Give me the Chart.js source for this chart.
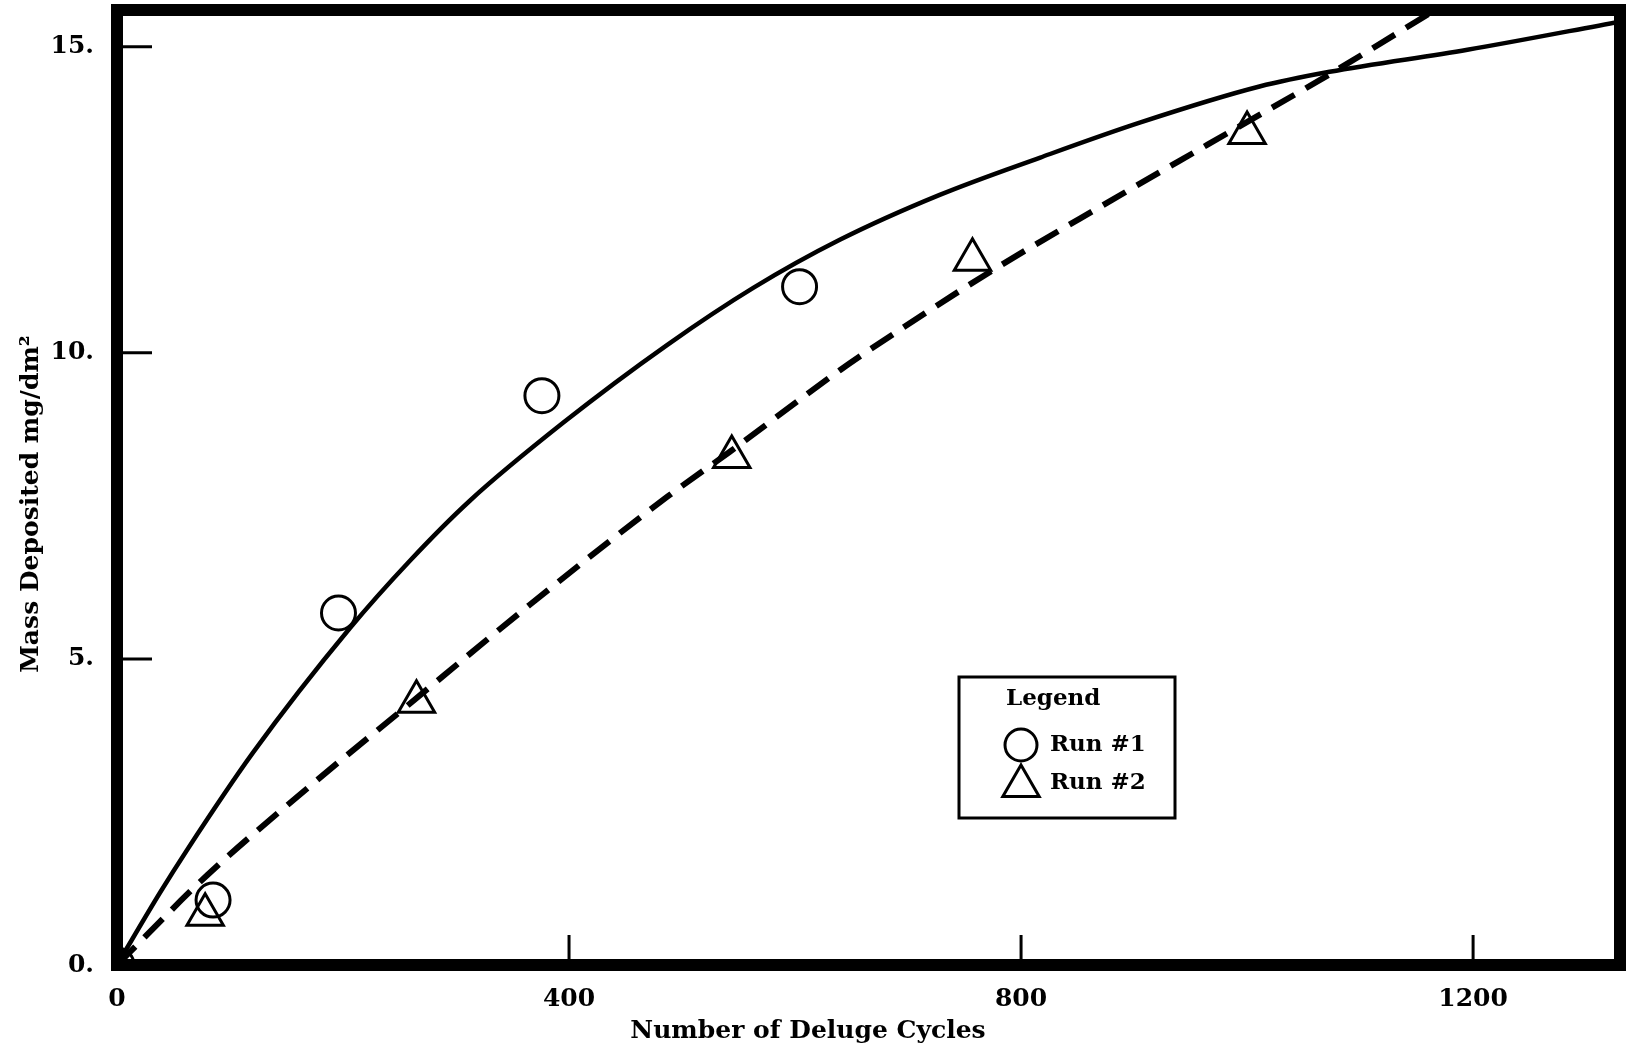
<!DOCTYPE html>
<html>
<head>
<meta charset="utf-8">
<script src="https://cdn.jsdelivr.net/npm/chart.js@4.4.1/dist/chart.umd.min.js"></script>
<style>
    html, body { margin: 0; padding: 0; background: #fff; }
    #wrap { width: 1632px; height: 1048px; }
</style>
</head>
<body>
<div id="wrap"><canvas id="deluge-chart"></canvas></div>
<script>
var run1Cycles = [0, 85, 196, 376, 604];
var run1Mass = [0, 1.06, 5.75, 9.30, 11.08];
var run2Cycles = [0, 78, 265, 544, 757, 1000];
var run2Mass = [0, 0.82, 4.30, 8.30, 11.52, 13.59];

// hand drawn fit curves
var fit1Cycles = [0, 38, 62, 120, 206, 259, 312, 395, 487, 563, 640, 728, 817, 905, 1011, 1073, 1195, 1330];
var fit1Mass = [0, 1.18, 1.88, 3.46, 5.50, 6.60, 7.58, 8.86, 10.13, 11.06, 11.85, 12.58, 13.19, 13.76, 14.35, 14.59, 14.95, 15.41];
var fit2Cycles = [0, 80, 177, 250, 365, 487, 542, 640, 693, 775, 876, 965, 1073, 1153, 1188];
var fit2Mass = [0, 1.47, 3.02, 4.13, 5.88, 7.65, 8.38, 9.72, 10.38, 11.35, 12.45, 13.40, 14.55, 15.45, 15.85];

// axes
var xTickValues = [0, 400, 800, 1200];
var yTickValues = [0, 5, 10, 15];
var xTitle = "Number of Deluge Cycles";
var yTitle = "Mass Deposited mg/dm\u00B2";
var legendTitle = "Legend";
var seriesNames = ["Run #1", "Run #2"];

var FONT = "'DejaVu Serif', 'Liberation Serif', serif";

function toPoints(xs, ys) {
    return xs.map(function (x, i) { return { x: x, y: ys[i] }; });
}

// no extra room for edge labels, the frame sits right at the canvas edge
function noEdgePadding(scale) {
    scale.paddingTop = 0;
    scale.paddingBottom = 0;
    scale.paddingLeft = 0;
    scale.paddingRight = 0;
}

// frame + inward tick marks
var framePlugin = {
    id: "frame",
    afterDatasetsDraw: function (chart) {
        var ctx = chart.ctx, a = chart.chartArea;
        var xs = chart.scales.x, ys = chart.scales.y;
        ctx.save();
        ctx.strokeStyle = "#000";
        ctx.lineWidth = 3;
        yTickValues.forEach(function (v) {
            if (v === 0) return;
            var py = ys.getPixelForValue(v);
            ctx.beginPath();
            ctx.moveTo(a.left, py);
            ctx.lineTo(a.left + 35, py);
            ctx.stroke();
        });
        xTickValues.forEach(function (v) {
            if (v === 0) return;
            var px = xs.getPixelForValue(v);
            ctx.beginPath();
            ctx.moveTo(px, a.bottom);
            ctx.lineTo(px, a.bottom - 30);
            ctx.stroke();
        });
        ctx.lineWidth = 12;
        ctx.lineJoin = "miter";
        ctx.strokeRect(a.left, a.top, a.right - a.left, a.bottom - a.top);
        ctx.restore();
    }
};

// axis titles and the boxed legend
var textPlugin = {
    id: "texts",
    afterDraw: function (chart) {
        var ctx = chart.ctx, a = chart.chartArea;
        var ds = chart.data.datasets;
        ctx.save();
        ctx.fillStyle = "#000";
        ctx.font = "bold 25px " + FONT;
        ctx.textAlign = "center";
        ctx.textBaseline = "middle";
        ctx.fillText(xTitle, a.left + 691, a.bottom + 66);

        ctx.save();
        ctx.translate(31, a.top + 494);
        ctx.rotate(-Math.PI / 2);
        ctx.fillText(yTitle, 0, 0);
        ctx.restore();

        // legend box
        var bx = a.left + 842, by = a.top + 667;
        ctx.lineWidth = 3;
        ctx.strokeStyle = "#000";
        ctx.strokeRect(bx, by, 216, 141);
        ctx.font = "bold 23px " + FONT;
        ctx.textAlign = "left";
        ctx.fillText(legendTitle, bx + 47, by + 22);

        var rows = [by + 68, by + 106];
        [ds[2], ds[3]].forEach(function (d, i) {
            ctx.fillStyle = "rgba(0,0,0,0)";
            ctx.lineWidth = d.borderWidth;
            Chart.helpers.drawPoint(ctx, {
                pointStyle: d.pointStyle,
                radius: d.pointStyle === "circle" ? 16 : 21,
                rotation: 0,
                borderWidth: d.borderWidth
            }, bx + 62, rows[i] + (i === 1 ? 3 : 0));
            ctx.fillStyle = "#000";
            ctx.fillText(seriesNames[i], bx + 91, rows[i]);
        });
        ctx.restore();
    }
};

var ctx = document.getElementById("deluge-chart").getContext("2d");
var myChart = new Chart(ctx, {
    type: "scatter",
    data: {
        datasets: [{
            label: "Run #1 fit",
            data: toPoints(fit1Cycles, fit1Mass),
            showLine: true,
            borderColor: "#000",
            borderWidth: 4.5,
            pointRadius: 0,
            cubicInterpolationMode: "monotone"
        }, {
            label: "Run #2 fit",
            data: toPoints(fit2Cycles, fit2Mass),
            showLine: true,
            borderColor: "#000",
            borderWidth: 6,
            borderDash: [26, 13],
            pointRadius: 0,
            cubicInterpolationMode: "monotone"
        }, {
            label: seriesNames[0],
            data: toPoints(run1Cycles, run1Mass),
            pointStyle: "circle",
            pointRadius: 17,
            borderWidth: 3,
            borderColor: "#000",
            backgroundColor: "rgba(0,0,0,0)"
        }, {
            label: seriesNames[1],
            data: toPoints(run2Cycles, run2Mass),
            pointStyle: "triangle",
            pointRadius: 21,
            borderWidth: 3,
            borderColor: "#000",
            backgroundColor: "rgba(0,0,0,0)"
        }]
    },
    options: {
        responsive: true,
        maintainAspectRatio: false,
        animation: false,
        events: [],
        layout: {
            autoPadding: false,
            padding: { top: 10, right: 12, left: 0, bottom: 0 }
        },
        plugins: {
            legend: { display: false },
            tooltip: { enabled: false }
        },
        scales: {
            x: {
                type: "linear",
                min: 0,
                max: 1330,
                grid: { display: false, drawTicks: false },
                border: { display: false },
                afterBuildTicks: function (scale) {
                    scale.ticks = xTickValues.map(function (v) { return { value: v }; });
                },
                afterFit: function (scale) {
                    scale.height = 83;
                    noEdgePadding(scale);
                },
                ticks: {
                    padding: 19,
                    color: "#000",
                    font: { family: FONT, size: 25, weight: "bold" },
                    callback: function (v) { return String(v); }
                }
            },
            y: {
                type: "linear",
                min: 0,
                max: 15.6,
                grid: { display: false, drawTicks: false },
                border: { display: false },
                afterBuildTicks: function (scale) {
                    scale.ticks = yTickValues.map(function (v) { return { value: v }; });
                },
                afterFit: function (scale) {
                    scale.width = 117;
                    noEdgePadding(scale);
                },
                ticks: {
                    padding: 23,
                    color: "#000",
                    font: { family: FONT, size: 25, weight: "bold" },
                    callback: function (v) { return v + "."; }
                }
            }
        }
    },
    plugins: [framePlugin, textPlugin]
});
</script>
</body>
</html>
